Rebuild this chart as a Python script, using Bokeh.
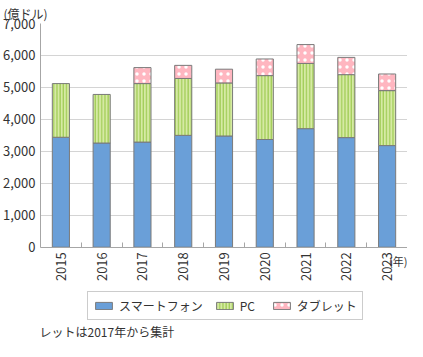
import math
from bokeh.plotting import figure
from bokeh.models import (ColumnDataSource, Range1d, FixedTicker, NumeralTickFormatter,
                          Legend, LegendItem, Title, Label)
from bokeh.embed import file_html
from bokeh.resources import INLINE

years = ["2015", "2016", "2017", "2018", "2019", "2020", "2021", "2022", "2023"]
smartphone = [3440, 3260, 3290, 3500, 3480, 3370, 3710, 3430, 3180]
pc = [1680, 1520, 1830, 1780, 1660, 2000, 2040, 1970, 1720]
tablet = [float("nan"), float("nan"), 500, 410, 430, 520, 590, 540, 520]
series_names = ["スマートフォン", "PC", "タブレット"]
y_ticks = [0, 1000, 2000, 3000, 4000, 5000, 6000, 7000]
Y_MAX = 7000
Y_BELOW = -2950   # room under the axis for the year labels, legend and note

FONT = "Noto Sans CJK JP"
TXT = "#333333"
GRID = "#d4d4d4"
AXIS = "#a6a6a6"

xs = list(range(len(years)))
src = ColumnDataSource(dict(x=xs, smartphone=smartphone, pc=pc, tablet=tablet))

p = figure(width=407, height=341, output_backend="svg", toolbar_location=None,
           x_range=Range1d(-0.5, len(years) - 0.5), y_range=Range1d(Y_BELOW, Y_MAX),
           min_border_left=37, min_border_right=0, min_border_top=10, min_border_bottom=0)
p.outline_line_color = None
p.background_fill_color = "white"

rs = p.vbar_stack(["smartphone", "pc", "tablet"], x="x", width=0.42, source=src,
                  fill_color=["#6a9fd8", "#d6eaa4", "#ffb6c0"],
                  line_color="#7a7a7a", line_width=1,
                  hatch_pattern=[" ", "vertical_line", "dot"],
                  hatch_color=["#6a9fd8", "#a2cd58", "white"],
                  hatch_scale=[3, 3.2, 7], hatch_weight=[1, 1.4, 2.2])

# x axis drawn at y = 0
xa = p.xaxis[0]
xa.fixed_location = 0
xa.ticker = FixedTicker(ticks=xs, minor_ticks=[i - 0.5 for i in range(len(years) + 1)])
xa.major_label_overrides = {i: y for i, y in enumerate(years)}
xa.major_label_orientation = math.pi / 2
xa.major_tick_in = 0
xa.major_tick_out = 0
xa.minor_tick_in = 5
xa.minor_tick_out = 0
xa.minor_tick_line_color = AXIS
xa.axis_line_color = AXIS
xa.major_label_standoff = 5
xa.major_label_text_font = FONT
xa.major_label_text_font_size = "13px"
xa.major_label_text_color = TXT

ya = p.yaxis[0]
ya.ticker = FixedTicker(ticks=y_ticks)
ya.bounds = (0, Y_MAX)
ya.formatter = NumeralTickFormatter(format="0,0")
ya.major_tick_in = 0
ya.major_tick_out = 0
ya.minor_tick_line_color = None
ya.axis_line_color = AXIS
ya.major_label_standoff = 5
ya.major_label_text_font = FONT
ya.major_label_text_font_size = "13px"
ya.major_label_text_color = TXT

p.xgrid.grid_line_color = None
p.ygrid.grid_line_color = GRID
p.ygrid.grid_line_width = 1

# legend under the axis (inside the extended frame)
legend = Legend(items=[LegendItem(label=n, renderers=[r]) for n, r in zip(series_names, rs)],
                orientation="horizontal", location=(47, 21),
                glyph_width=21, glyph_height=9, label_standoff=5, spacing=11,
                padding=5, margin=0, label_height=17,
                label_text_font=FONT, label_text_font_size="12px", label_text_color=TXT,
                border_line_color="#9a9a9a", border_line_width=1,
                background_fill_color="white", background_fill_alpha=1)
p.add_layout(legend, "center")

# year unit
p.add_layout(Label(x=len(years) - 0.5, y=0, x_offset=0, y_offset=-6, text="(年)",
                   text_font=FONT, text_font_size="11px", text_color=TXT,
                   text_baseline="top", text_align="right"))

# footnote
p.add_layout(Label(x=-0.5, y=Y_BELOW, x_offset=-37, y_offset=2,
                   text="※タブレットは2017年から集計",
                   text_font=FONT, text_font_size="12px", text_color=TXT,
                   text_baseline="bottom", text_align="left"))

# unit label
p.add_layout(Title(text="(億ドル)", align="left", offset=-37, standoff=4,
                   text_font=FONT, text_font_size="12px", text_font_style="normal",
                   text_color=TXT), "above")

open("out.html", "w").write(file_html(p, INLINE))
